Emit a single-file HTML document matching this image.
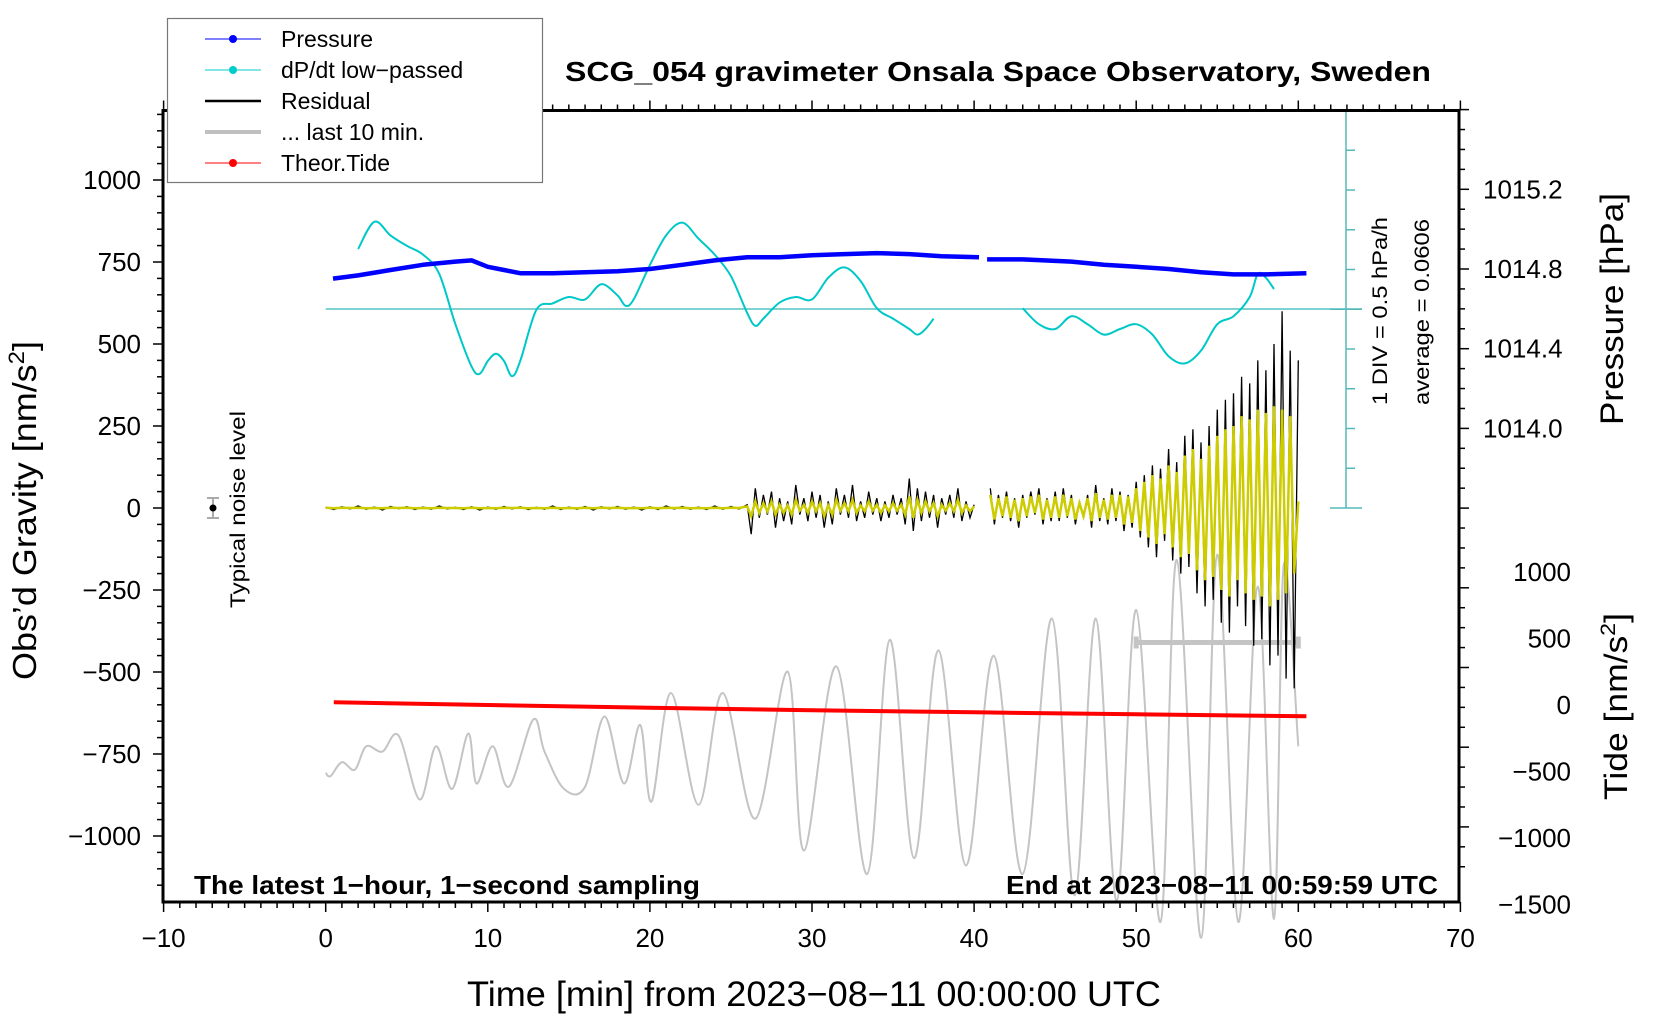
<!DOCTYPE html>
<html><head><meta charset="utf-8"><style>
html,body{margin:0;padding:0;background:#fff}
svg{display:block;font-family:"Liberation Sans",Arial,sans-serif}
</style></head><body>
<svg id="chart" width="1660" height="1020" viewBox="0 0 1660 1020">
<g id="marks"></g>
<g id="axes"></g>
<text x="565" y="81" font-size="28" font-weight="bold" textLength="866" lengthAdjust="spacingAndGlyphs">SCG_054 gravimeter Onsala Space Observatory, Sweden</text>
<text x="194" y="894" font-size="26" font-weight="bold" textLength="506" lengthAdjust="spacingAndGlyphs">The latest 1−hour, 1−second sampling</text>
<text x="1006" y="894" font-size="26" font-weight="bold" textLength="432" lengthAdjust="spacingAndGlyphs">End at 2023−08−11 00:59:59 UTC</text>
<text x="467" y="1006" font-size="35" textLength="694" lengthAdjust="spacingAndGlyphs">Time [min] from 2023−08−11 00:00:00 UTC</text>
<text transform="translate(36,680) rotate(-90)" font-size="33" textLength="339" lengthAdjust="spacingAndGlyphs">Obs’d Gravity [nm/s<tspan font-size="22" dy="-12">2</tspan><tspan dy="12">]</tspan></text>
<text transform="translate(1623,425) rotate(-90)" font-size="32" textLength="232" lengthAdjust="spacingAndGlyphs">Pressure [hPa]</text>
<text transform="translate(1627,800) rotate(-90)" font-size="32" textLength="187" lengthAdjust="spacingAndGlyphs">Tide [nm/s<tspan font-size="21" dy="-12">2</tspan><tspan dy="12">]</tspan></text>
<text transform="translate(1387,405) rotate(-90)" font-size="21" textLength="188" lengthAdjust="spacingAndGlyphs">1 DIV = 0.5 hPa/h</text>
<text transform="translate(1429,405) rotate(-90)" font-size="21" textLength="186" lengthAdjust="spacingAndGlyphs">average = 0.0606</text>
<text transform="translate(245,608) rotate(-90)" font-size="21" textLength="197" lengthAdjust="spacingAndGlyphs">Typical noise level</text>
<g>
<line x1="213" y1="498" x2="213" y2="518" stroke="#aaa" stroke-width="2"/>
<line x1="207" y1="498" x2="219" y2="498" stroke="#aaa" stroke-width="2"/>
<line x1="207" y1="518" x2="219" y2="518" stroke="#aaa" stroke-width="2"/>
<circle cx="213" cy="508" r="3.5" fill="#000"/>
</g>
<g>
<rect x="167.5" y="18.5" width="375" height="164" fill="#fff" stroke="#777" stroke-width="1.2"/>
<g><line x1="205" y1="39" x2="261" y2="39" stroke="#0000ff" stroke-width="1"/><circle cx="233" cy="39" r="4" fill="#0000ff"/><text x="281" y="47" font-size="23">Pressure</text></g>
<g><line x1="205" y1="70" x2="261" y2="70" stroke="#00cccc" stroke-width="1"/><circle cx="233" cy="70" r="4" fill="#00cccc"/><text x="281" y="78" font-size="23">dP/dt low−passed</text></g>
<g><line x1="205" y1="101" x2="261" y2="101" stroke="#000" stroke-width="2.5"/><text x="281" y="109" font-size="23">Residual</text></g>
<g><line x1="205" y1="132" x2="261" y2="132" stroke="#c0c0c0" stroke-width="4"/><text x="281" y="140" font-size="23">... last 10 min.</text></g>
<g><line x1="205" y1="163" x2="261" y2="163" stroke="#ff0000" stroke-width="1"/><circle cx="233" cy="163" r="4" fill="#ff0000"/><text x="281" y="171" font-size="23">Theor.Tide</text></g>
</g>
</svg>
<script>
// ---- data ----
const xTicks = [-10,0,10,20,30,40,50,60,70];
const gTicks = [1000,750,500,250,0,-250,-500,-750,-1000];
const pTicks = [1015.2,1014.8,1014.4,1014.0];
const tideTicks = [1000,500,0,-500,-1000,-1500];

const pressT = [0.45,2,4,6,8,9,10,11,12,14,16,18,20,22,24,26,28,30,32,34,36,38,40.3,null,40.8,43,46,48,50,52,54,56,58,60.5];
const pressV = [1014.752,1014.768,1014.795,1014.821,1014.837,1014.843,1014.811,1014.795,1014.779,1014.779,1014.784,1014.789,1014.800,1014.821,1014.843,1014.859,1014.859,1014.869,1014.875,1014.880,1014.875,1014.864,1014.859,null,1014.848,1014.848,1014.837,1014.821,1014.811,1014.800,1014.784,1014.773,1014.773,1014.779];

const dpT1 = [2,3,4,5,6,7,8,9,9.5,10,10.5,11,11.5,12,13,14,15,16,17,18,18.5,19,20,21,22,23,24,25,26,26.5,27,28,29,30,31,32,33,34,35,36,36.5,37,37.5];
const dpV1 = [0.81,1.15,0.98,0.85,0.74,0.50,-0.13,-0.66,-0.75,-0.59,-0.50,-0.59,-0.78,-0.59,0.05,0.13,0.21,0.18,0.37,0.23,0.10,0.18,0.61,0.98,1.14,0.94,0.74,0.47,0.01,-0.15,-0.06,0.14,0.21,0.18,0.45,0.58,0.41,0.07,-0.06,-0.19,-0.26,-0.19,-0.06];
const dpT2 = [43,44,45,46,47,48,49,50,51,52,53,54,55,56,57,57.5,58,58.5];
const dpV2 = [0.07,-0.13,-0.19,-0.03,-0.13,-0.26,-0.19,-0.13,-0.26,-0.53,-0.62,-0.46,-0.13,-0.03,0.21,0.50,0.45,0.31];
const dpAverage = 0.0606;

const earlyRes = [2,-5,4,-3,6,-4,3,-6,5,-2,4,-5,3,-4,6,-3,2,-5,4,-6,3,-4,5,-3,4,-5,2,-4,6,-5,3,-4,5,-6,4,-3,5,-4,3,-6,4,-5,6,-3,5,-4,3,-5,6,-4,5,-3];
const earlyYellow = [1,-1,1,0,1,-1,0,-1,1,0,1,-1,0,-1,1,0,0,-1,1,-1,0,-1,1,0,1,-1,0,-1,1,-1,0,-1,1,-1,1,0,1,-1,0,-1,1,-1,1,0,1,-1,0,-1,1,-1,1,0];
const resBlack = [10,-80,60,-30,40,-20,50,-60, 30,-40,20,-50,70,-20,30,-40, 50,-30,40,-60,20,-50,60,-20, 40,-30,70,-40,20,-30,50,-20, 30,-40,20,-30,40,-20,30,-50, 90,-70,60,-40,50,-30,40,-60, 30,-20,40,-30,60,-40,20,-30,
 10,null,null,null,
 60,-50,40,-30,50,-40,30,-60, 40,-30,50,-20,60,-50,30,-40, 50,-40,60,-30,40,-50,20,-30, 40,-60,70,-40,30,-50,60,-40, 50,-70,40,-60,80,-90,100,-120, 130,-150,120,-100,180,-160,140,-200, 220,-180,240,-260,200,-300,250,-280, 300,-350,330,-380,350,-300,400,-360, 380,-420,450,-400,420,-480,500,-450,
 600,-520,480,-550,450];
const resYellow = [5,-25,20,-15,15,-10,20,-20, 10,-15,8,-20,25,-8,10,-15, 20,-10,15,-25,8,-20,25,-8, 15,-10,25,-15,8,-10,20,-8, 10,-15,8,-10,15,-8,10,-20, 35,-30,25,-15,20,-10,15,-25, 10,-8,15,-10,25,-15,8,-10,
 5,null,null,null,
 40,-35,30,-25,35,-30,25,-40, 30,-25,35,-15,40,-35,25,-30, 35,-30,40,-25,30,-35,15,-25, 30,-40,45,-30,25,-35,40,-30, 40,-50,35,-45,60,-70,80,-90, 100,-110,90,-80,130,-120,110,-150, 160,-140,180,-190,150,-220,190,-210, 220,-250,240,-270,250,-220,280,-260, 270,-280,300,-270,290,-300,310,-280,
 300,-260,280,-200,20];

const tideT = [0.5,10,20,30,40,50,60.5];
const tideV = [50,30,10,-10,-25,-40,-55];

const greyT = [0,0.3,1,1.8,2.5,3.5,4.5,5.8,6.8,7.8,8.8,9.3,10.3,11.3,12.8,13.5,14.7,16,17.2,18.4,19.4,20.1,21.3,23,24.5,26.5,28.5,29.5,31.5,33.4,34.8,36.3,37.8,39.5,41.2,43,44.8,46.2,47.5,48.8,50,51.5,52.5,54,55,56.3,57.5,58.5,59.1,60];
const greyV = [-480,-504,-400,-456,-280,-320,-200,-680,-280,-600,-184,-560,-280,-584,-80,-320,-600,-584,-56,-560,-120,-696,120,-720,120,-824,280,-1064,320,-1240,520,-1120,440,-1176,400,-1240,680,-1400,680,-1440,744,-1600,1120,-1720,1160,-1600,920,-1576,1080,-280];
const last10Range = [50,60];
const last10Level = 500;

// ---- scales ----
const L=163,R=1459,T=110.5,B=902;
const X = t => 325.7 + 16.21*t;
const YG = v => 508 - 0.328*v;
const YP = p => 269 - (p-1014.8)*199.25;
const YT = v => 709 - 0.1331*v;
const YD = v => 309 - (v-dpAverage)*80;

const NS='http://www.w3.org/2000/svg';
const marks=document.getElementById('marks'), axes=document.getElementById('axes');
function mk(tag,attrs,parent){const e=document.createElementNS(NS,tag);for(const k in attrs)e.setAttribute(k,attrs[k]);(parent||marks).appendChild(e);return e;}

function linePath(ts,vs,fy){let d='',pen=false;for(let i=0;i<ts.length;i++){if(vs[i]===null||ts[i]===null){pen=false;continue;}d+=(pen?'L':'M')+X(ts[i]).toFixed(1)+' '+fy(vs[i]).toFixed(1);pen=true;}return d;}
function smoothPath(ts,vs,fy){const p=ts.map((t,i)=>[X(t),fy(vs[i])]);let d='M'+p[0][0]+' '+p[0][1];for(let i=0;i<p.length-1;i++){const p0=p[i-1]||p[i],p1=p[i],p2=p[i+1],p3=p[i+2]||p2;const c1=[p1[0]+(p2[0]-p0[0])/6,p1[1]+(p2[1]-p0[1])/6],c2=[p2[0]-(p3[0]-p1[0])/6,p2[1]-(p3[1]-p1[1])/6];d+='C'+c1.map(n=>n.toFixed(1)).join(' ')+' '+c2.map(n=>n.toFixed(1)).join(' ')+' '+p2[0].toFixed(1)+' '+p2[1].toFixed(1);}return d;}

// grey last-10-min curve
let e=mk('path',{d:smoothPath(greyT,greyV,YT),fill:'none',stroke:'#c4c4c4','stroke-width':2});


e=mk('path',{d:'M'+X(last10Range[0])+' '+YT(last10Level)+'H'+X(last10Range[1])+'M'+X(last10Range[0])+' '+(YT(last10Level)-6)+'v12M'+X(last10Range[1])+' '+(YT(last10Level)-6)+'v12',fill:'none',stroke:'#c4c4c4','stroke-width':5});



// cyan baseline and scale bar
e=mk('line',{x1:X(0),x2:1362,y1:YD(dpAverage),y2:YD(dpAverage),stroke:'#55c4c4','stroke-width':1.5});


const sb=mk('g',{stroke:'#55b8b8','stroke-width':1.5});


mk('line',{x1:1346,x2:1346,y1:T,y2:YG(0)},sb);
for(let k=0;k<=10;k++){const y=T+k*(YG(0)-T)/10;const big=(k===0||k===10||k===5);mk('line',{x1:big?1330:1346,x2:big?1362:1355,y1:y,y2:y},sb);}

// cyan dP/dt
[[dpT1,dpV1],[dpT2,dpV2]].forEach(([t,v],i)=>{e=mk('path',{d:smoothPath(t,v,YD),fill:'none',stroke:'#00c8c8','stroke-width':2});

});

// pressure
e=mk('path',{d:linePath(pressT,pressV,YP),fill:'none',stroke:'#0000ff','stroke-width':4.5,'stroke-linejoin':'round'});



// residuals
const earlyT=earlyRes.map((_,i)=>i*0.5);
const lateT=resBlack.map((_,i)=>26+i*0.25);
e=mk('path',{d:linePath(earlyT.concat(lateT),earlyRes.concat(resBlack),YG),fill:'none',stroke:'#000','stroke-width':1.3});


e=mk('path',{d:linePath(earlyT.concat(lateT),earlyYellow.concat(resYellow),YG),fill:'none',stroke:'#cccc00','stroke-width':2.5});



// tide
e=mk('path',{d:linePath(tideT,tideV,YT),fill:'none',stroke:'#ff0000','stroke-width':4});



// ---- axes ----
const fr=mk('rect',{x:L,y:T,width:R-L,height:B-T,fill:'none',stroke:'#000','stroke-width':3},axes);


const tk=mk('g',{stroke:'#000','stroke-width':1.5},axes);
for(let m=-10;m<=70;m++){const x=X(m),big=m%10===0;mk('line',{x1:x,x2:x,y1:B,y2:B+(big?10:6)},tk);mk('line',{x1:x,x2:x,y1:T,y2:T-(big?10:6)},tk);}
for(let v=-1150;v<=1200;v+=50){const y=YG(v),big=v%250===0;mk('line',{x1:L,x2:L-(big?10:6),y1:y,y2:y},tk);}
for(let k=-30;k<=20;k++){const p=1014.8+k*0.1,y=YP(p);if(y<T-1||y>B+1)continue;const big=k%4===0;mk('line',{x1:R,x2:R+(big?10:6),y1:y,y2:y},tk);}
xTicks.forEach(t=>{const el=mk('text',{x:X(t),y:947,'font-size':26,'text-anchor':'middle'},axes);el.textContent=String(t).replace('-','−');

});
gTicks.forEach(v=>{const el=mk('text',{x:141,y:YG(v)+9,'font-size':26,'text-anchor':'end'},axes);el.textContent=String(v).replace('-','−');

});
pTicks.forEach(p=>{const el=mk('text',{x:1483,y:YP(p)+9,'font-size':26},axes);el.textContent=p.toFixed(1);

});
tideTicks.forEach(v=>{const el=mk('text',{x:1571,y:YT(v)+5,'font-size':26,'text-anchor':'end'},axes);el.textContent=String(v).replace('-','−');

});
</script>
</body></html>
